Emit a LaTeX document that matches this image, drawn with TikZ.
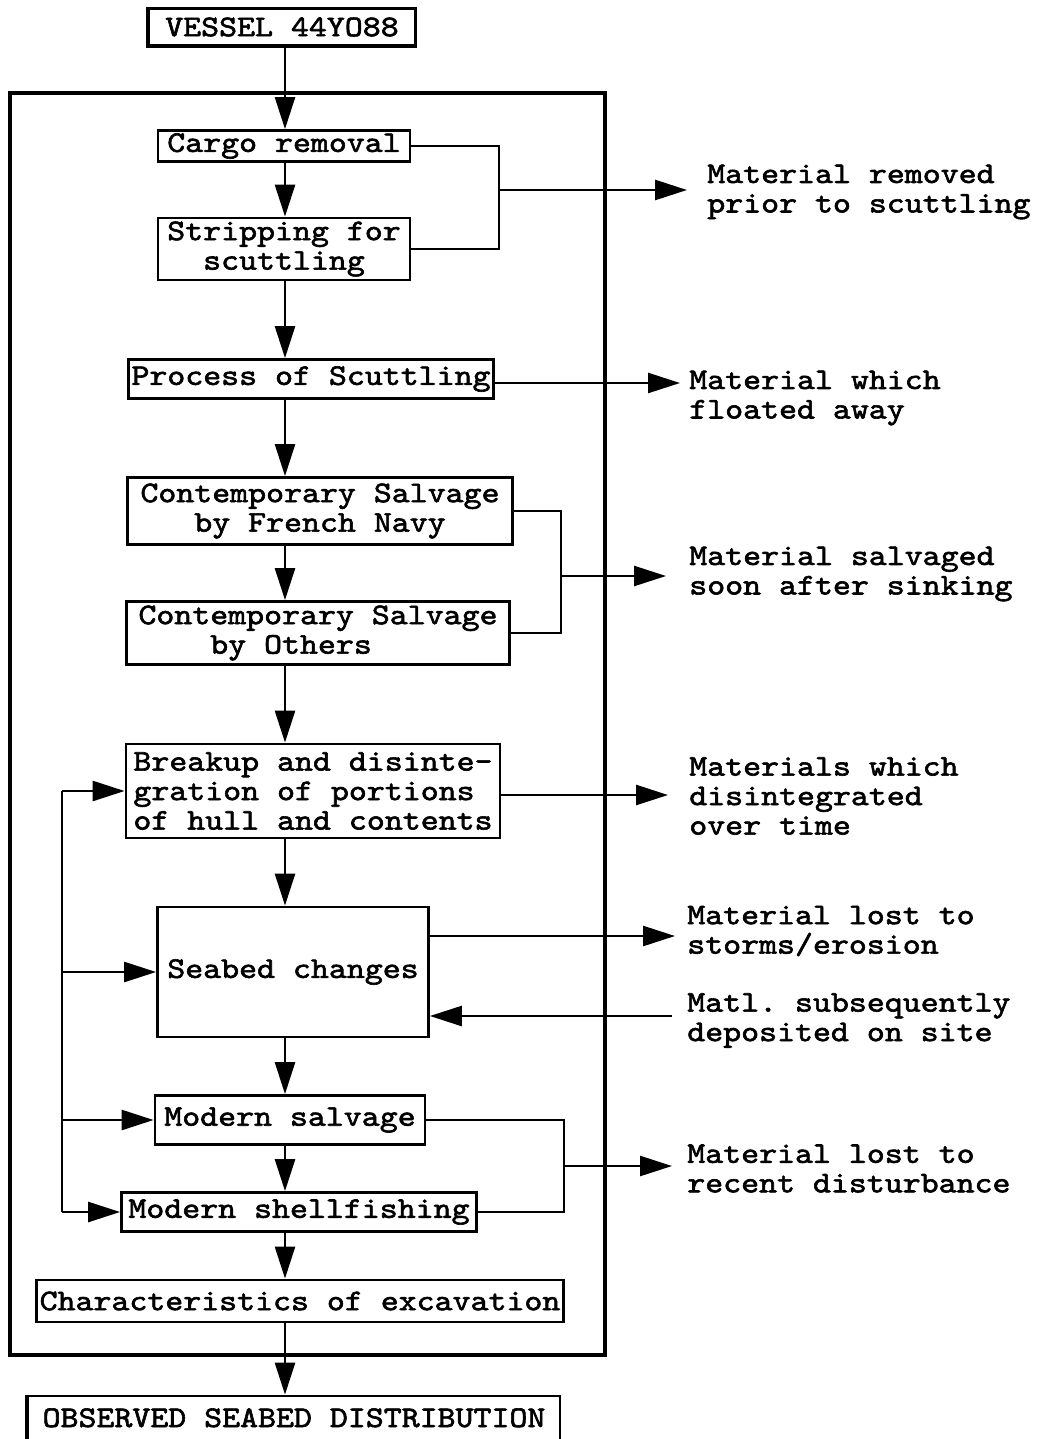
\documentclass[tikz,border=0pt]{standalone}
\usepackage{fontspec}
\setmonofont{lmmono10-regular.otf}[FakeStretch=1.14,FakeBold=2]
\usetikzlibrary{arrows.meta,positioning}

\begin{document}
\begin{tikzpicture}[
        x=1pt, y=-1pt,
        >={Triangle[length=32pt,width=20pt]},
        every path/.style={line width=2.6pt},
        txt/.style={font={\fontsize{30pt}{29.5pt}\selectfont\ttfamily}},
        box/.style={txt, draw, line width=2.8pt, inner sep=0pt, align=center},
        lbl/.style={txt, anchor=west, inner sep=0pt, align=left}
    ]
    \useasboundingbox (0,0) rectangle (1036,1439);
    \node[draw, line width=3.4pt, minimum width=595pt, minimum height=1262pt] (frame) at (307.5,724) {};

    \node[box, minimum width=267pt, minimum height=37pt] (vessel) at (282,27) {VESSEL 44YO88};
    \node[box, minimum width=252pt, minimum height=31pt] (cargo) at (284,146) {Cargo removal};
    \node[box, minimum width=252pt, minimum height=62pt] (strip) at (284,249) {Stripping for\\scuttling};
    \node[box, minimum width=365pt, minimum height=39pt] (proc) at (311,379) {Process of Scuttling};
    \node[box, minimum width=385pt, minimum height=67pt] (fn) at (320,511) {Contemporary Salvage\\by French Navy};
    \node[box, minimum width=383pt, minimum height=63pt, align=left] (oth) at (318,633)
        {Contemporary Salvage\\\phantom{0000}by Others};
    \node[box, minimum width=374pt, minimum height=94pt, align=left] (brk) at (313,791)
        {Breakup and disinte-\\gration of portions\\of hull and contents};
    \node[box, minimum width=271pt, minimum height=130pt] (sea) at (293,972) {Seabed changes};
    \node[box, minimum width=270pt, minimum height=49pt] (msal) at (290,1120) {Modern salvage};
    \node[box, minimum width=355pt, minimum height=39pt] (shell) at (299,1212) {Modern shellfishing};
    \node[box, minimum width=527pt, minimum height=42pt] (chars) at (300,1301) {Characteristics of excavation};
    \node[box, anchor=base, minimum width=532pt, text height=31pt, text depth=40pt] (obs) at (294,1427)
        {OBSERVED SEABED DISTRIBUTION};

    \draw[line width=3.2pt] (vessel.north west) -- (vessel.south west) -- (vessel.south east);
    \draw[line width=3.2pt] (obs.north west) -- (obs.south west);

    \coordinate (axis) at (285,0);
    \foreach \a/\b in {vessel/cargo, cargo/strip, strip/proc, proc/fn, fn/oth, oth/brk,
                       brk/sea, sea/msal, msal/shell, shell/chars, chars/obs}
        \draw[->] (\a.south -| axis) -- (\b.north -| axis);

    \node[lbl] (l1) at (706,192) {Material removed\\prior to scuttling};
    \node[lbl] (l2) at (688,398) {Material which\\floated away};
    \node[lbl] (l3) at (688,574) {Material salvaged\\soon after sinking};
    \node[lbl] (l4) at (688,796) {Materials which\\disintegrated\\over time};
    \node[lbl] (l5) at (686,931) {Material lost to\\storms/erosion};
    \node[lbl] (l6) at (686,1020.5) {Matl. subsequently\\deposited on site};
    \node[lbl] (l7) at (686,1168.5) {Material lost to\\recent disturbance};

    \coordinate (j1) at (499,190);
    \coordinate (t1) at (687,190);
    \draw (cargo.east) -| (j1) |- (strip.east);
    \draw[->] (j1) -- (t1);

    \coordinate (t2) at (680,383);
    \draw[->] (proc.east |- t2) -- (t2);

    \coordinate (j3) at (561,576);
    \coordinate (t3) at (666,576);
    \draw (fn.east) -| (j3) |- (oth.east);
    \draw[->] (j3) -- (t3);

    \coordinate (t4) at (668,795);
    \draw[->] (brk.east |- t4) -- (t4);

    \coordinate (t5) at (675,936);
    \draw[->] (sea.east |- t5) -- (t5);

    \coordinate (s6) at (672,1016);
    \draw[->] (s6) -- (sea.east |- s6);

    \coordinate (j7) at (564,1166);
    \coordinate (t7) at (672,1166);
    \draw (msal.east) -| (j7) |- (shell.east);
    \draw[->] (j7) -- (t7);

    \coordinate (bus) at (62,0);
    \draw (bus |- brk.west) -- (bus |- shell.west);
    \foreach \n in {brk, sea, msal, shell}
        \draw[->] (bus |- \n.west) -- (\n.west);
\end{tikzpicture}
\end{document}
